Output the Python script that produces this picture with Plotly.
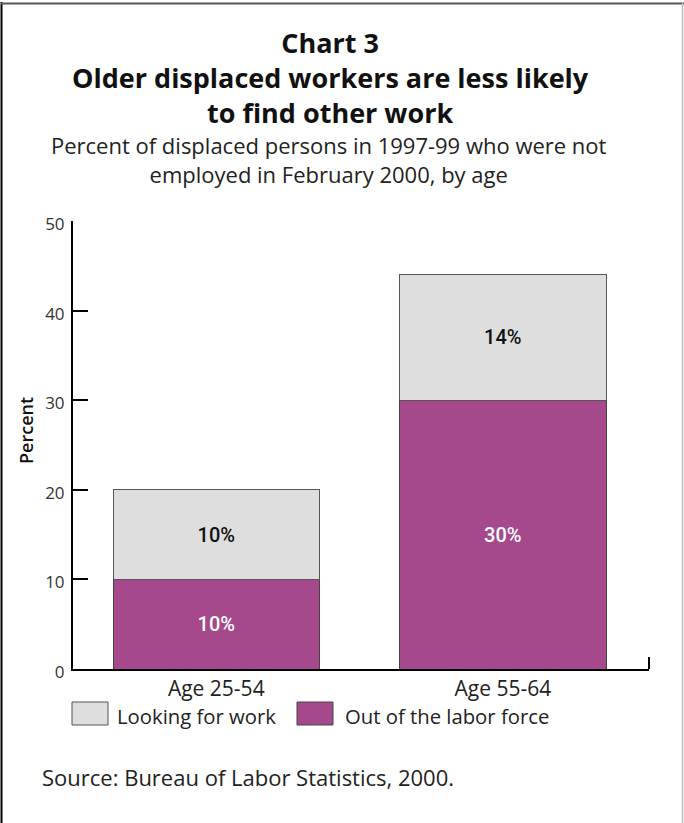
import plotly.graph_objects as go

categories = ["Age 25-54", "Age 55-64"]
series_names = ["Out of the labor force", "Looking for work"]
out_of_labor_force = [10, 30]
looking_for_work = [10, 14]
y_ticks = [0, 10, 20, 30, 40, 50]

title_lines = ["Chart 3", "Older displaced workers are less likely", "to find other work"]
subtitle_lines = ["Percent of displaced persons in 1997-99 who were not",
                  "employed in February 2000, by age"]
source_text = "Source: Bureau of Labor Statistics, 2000."

PURPLE = "#a5488c"
GRAY = "#dedede"
FONT = "Open Sans"

W, H = 684, 823
L, R, T, B = 73, 35, 221, 154
PW = W - L - R
PH = H - T - B

def px(x):
    return (x - L) / PW

def py(y):
    return (H - B - y) / PH

fig = go.Figure()
fig.add_trace(go.Bar(
    x=categories, y=out_of_labor_force, name=series_names[0],
    marker=dict(color=PURPLE, line=dict(color="#444", width=1)),
    width=0.72,
    text=[f"{v}%" for v in out_of_labor_force], textposition="inside",
    insidetextanchor="middle", textangle=0,
    textfont=dict(family="Roboto", size=20, color="white", weight=500),
    showlegend=False,
))
fig.add_trace(go.Bar(
    x=categories, y=looking_for_work, name=series_names[1],
    marker=dict(color=GRAY, line=dict(color="#555", width=1)),
    width=0.72,
    text=[f"{v}%" for v in looking_for_work], textposition="inside",
    insidetextanchor="middle", textangle=0,
    textfont=dict(family="Roboto", size=20, color="#111", weight=500),
    showlegend=False,
))

fig.update_layout(
    width=W, height=H, barmode="stack",
    margin=dict(l=L, r=R, t=T, b=B, pad=0),
    paper_bgcolor="white", plot_bgcolor="white",
    font=dict(family=FONT, color="#222"),
    uniformtext=dict(minsize=20, mode="show"),
    xaxis=dict(range=[-0.5, 1.51], showgrid=False, showline=True, linecolor="black",
               linewidth=2, ticks="", tickfont=dict(size=21, color="#222", family=FONT),
               zeroline=False),
    yaxis=dict(range=[0, 50], tickvals=y_ticks, showgrid=False, showline=True,
               linecolor="black", linewidth=2, ticks="inside", ticklen=15, tickwidth=2,
               tickcolor="black", tickfont=dict(size=17, color="#333", family=FONT),
               ticklabelstandoff=3, ticklabelshift=3, zeroline=False),
)

annotations = [
    dict(text="<br>".join(title_lines), x=px(330), y=py(77), xref="paper", yref="paper",
         xanchor="center", yanchor="middle", showarrow=False,
         font=dict(family=FONT, size=27, color="#111", weight="bold")),
    dict(text="<br>".join(subtitle_lines), x=px(329), y=py(159.5), xref="paper", yref="paper",
         xanchor="center", yanchor="middle", showarrow=False,
         font=dict(family=FONT, size=22, color="#222")),
    dict(text="Percent", x=px(26), y=py(431), xref="paper", yref="paper",
         xanchor="center", yanchor="middle", textangle=-90, showarrow=False,
         font=dict(family=FONT, size=18, color="#111", weight=600)),
    dict(text=series_names[1], x=px(115), y=py(716), xref="paper", yref="paper",
         xanchor="left", yanchor="middle", showarrow=False,
         font=dict(family=FONT, size=20.3, color="#222")),
    dict(text=series_names[0], x=px(343), y=py(716), xref="paper", yref="paper",
         xanchor="left", yanchor="middle", showarrow=False,
         font=dict(family=FONT, size=20.3, color="#222")),
    dict(text=source_text, x=px(40), y=py(777), xref="paper", yref="paper",
         xanchor="left", yanchor="middle", showarrow=False,
         font=dict(family=FONT, size=22, color="#222")),
]
fig.update_layout(annotations=annotations)

shapes = [
    dict(type="rect", xref="paper", yref="paper", x0=px(72), x1=px(108), y0=py(725), y1=py(702),
         fillcolor=GRAY, line=dict(color="#555", width=1)),
    dict(type="rect", xref="paper", yref="paper", x0=px(297), x1=px(333), y0=py(725), y1=py(702),
         fillcolor=PURPLE, line=dict(color="#444", width=1)),
    dict(type="line", xref="paper", yref="paper", x0=1, x1=1, y0=0, y1=py(657),
         line=dict(color="black", width=2)),
    dict(type="line", xref="paper", yref="paper", x0=px(1.5), x1=px(1.5), y0=py(2), y1=py(823),
         line=dict(color="black", width=2)),
    dict(type="line", xref="paper", yref="paper", x0=px(1), x1=px(684), y0=py(3.5), y1=py(3.5),
         line=dict(color="#555", width=2)),
    dict(type="line", xref="paper", yref="paper", x0=px(682.5), x1=px(682.5), y0=py(3), y1=py(823),
         line=dict(color="#bbb", width=1.5)),
]
fig.update_layout(shapes=shapes)

fig.write_html("out.html")
